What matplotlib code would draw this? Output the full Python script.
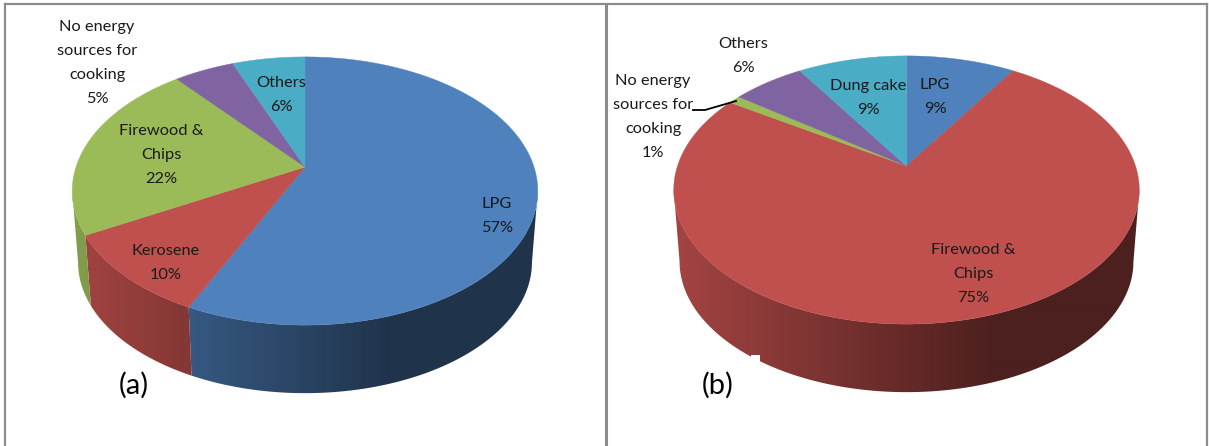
from matplotlib import pyplot as plt
from matplotlib.colors import to_rgb
from matplotlib.patches import Polygon, Rectangle
import numpy as np

plt.rcParams["font.family"] = ["Lato", "DejaVu Sans"]

BLUE = "#4f81bd"
RED = "#c0504d"
GREEN = "#9bbb59"
PURPLE = "#8064a2"
AQUA = "#4bacc6"

# slices run clockwise from 12 o'clock
left_labels = ["LPG", "Kerosene", "Firewood &\nChips", "No energy\nsources for\ncooking", "Others"]
left_values = [57, 10, 22, 5, 6]
left_colors = [BLUE, RED, GREEN, PURPLE, AQUA]
left_label_pos = [(497, 216), (166, 263), (161, 155), (97, 63), (281, 95)]

right_labels = ["LPG", "Firewood &\nChips", "No energy\nsources for\ncooking", "Others", "Dung cake"]
right_values = [9, 75, 1, 6, 9]
right_colors = [BLUE, RED, GREEN, PURPLE, AQUA]
right_label_pos = [(935, 97), (973, 274), (653, 117), (743, 56), (868, 98)]

# perspective of the tilted disc, in pixels
RX = 229
RY = 129.8
PERSP = 0.179
DEPTH = 72
BOTTOM_SCALE = 0.975


def project(cx, cy, theta, scale=1.0, drop=0):
  x = np.sin(theta)
  y = np.cos(theta)
  w = 1 + PERSP * y
  return cx + scale * RX * x / w, cy + drop - scale * RY * y / w


def wall_gradient(color):
  # side wall gets darker from left to right, flat past the centre
  offs = np.linspace(-240, 240, 480)
  f = np.interp(offs, [-232, 85], [0.85, 0.40])
  return f[None, :, None] * np.array(to_rgb(color))[None, None, :]


def draw_pie(ax, cx, cy, values, colors, labels, label_pos):
  edges = np.radians(np.cumsum([0] + values) * 3.6)
  widest = np.arccos(-PERSP)

  # only the part of the wall between the two widest points faces the viewer
  for i, color in enumerate(colors):
    lo = max(edges[i], widest)
    hi = min(edges[i + 1], 2 * np.pi - widest)
    if hi <= lo:
      continue
    ts = np.linspace(lo, hi, 300)
    xt, yt = project(cx, cy, ts)
    xb, yb = project(cx, cy, ts[::-1], BOTTOM_SCALE, DEPTH)
    wall = Polygon(np.c_[np.r_[xt, xb], np.r_[yt, yb]], transform=ax.transData)
    im = ax.imshow(wall_gradient(color), extent=(cx - 240, cx + 240, 446, 0),
                   aspect="auto", interpolation="bilinear", zorder=2)
    im.set_clip_path(wall)

  for i, color in enumerate(colors):
    ts = np.linspace(edges[i], edges[i + 1], 200)
    xs, ys = project(cx, cy, ts)
    ax.fill(np.r_[cx, xs], np.r_[cy, ys], color=color, lw=0.3, zorder=3)

  for label, value, (x, y) in zip(labels, values, label_pos):
    ax.text(x, y, f"{label}\n{value}%", ha="center", va="center", fontsize=11.8,
            linespacing=1.9, color="#1a1a1a", zorder=5)


fig = plt.figure(figsize=(12.09, 4.46), dpi=100)
ax = fig.add_axes([0, 0, 1, 1])

draw_pie(ax, 305, 167, left_values, left_colors, left_labels, left_label_pos)
draw_pie(ax, 906.5, 166, right_values, right_colors, right_labels, right_label_pos)

ax.set_xlim(0, 1209)
ax.set_ylim(446, 0)
ax.axis("off")

# small nick in the lower edge of the right pie
ax.add_patch(Rectangle((751, 354.5), 9, 8, color="white", lw=0, zorder=4))

# leader line for the 1% slice
ax.plot([693, 705, 736], [110, 110, 101], color="black", lw=1.3, zorder=6)

ax.text(134, 385, "(a)", ha="center", va="center", fontsize=21, color="black", zorder=5)
ax.text(718, 385, "(b)", ha="center", va="center", fontsize=21, color="black", zorder=5)

# panel frame, open along the bottom
frame = "#8c8c8c"
ax.plot([4.5, 1207], [4, 4], color=frame, lw=1.6, zorder=1)
ax.plot([4.5, 4.5], [4, 446], color=frame, lw=1.6, zorder=1)
ax.plot([605.5, 605.5], [4, 446], color=frame, lw=2.2, zorder=1)
ax.plot([1207, 1207], [4, 446], color=frame, lw=1.6, zorder=1)

plt.savefig("out.png", dpi=100)
plt.close()
